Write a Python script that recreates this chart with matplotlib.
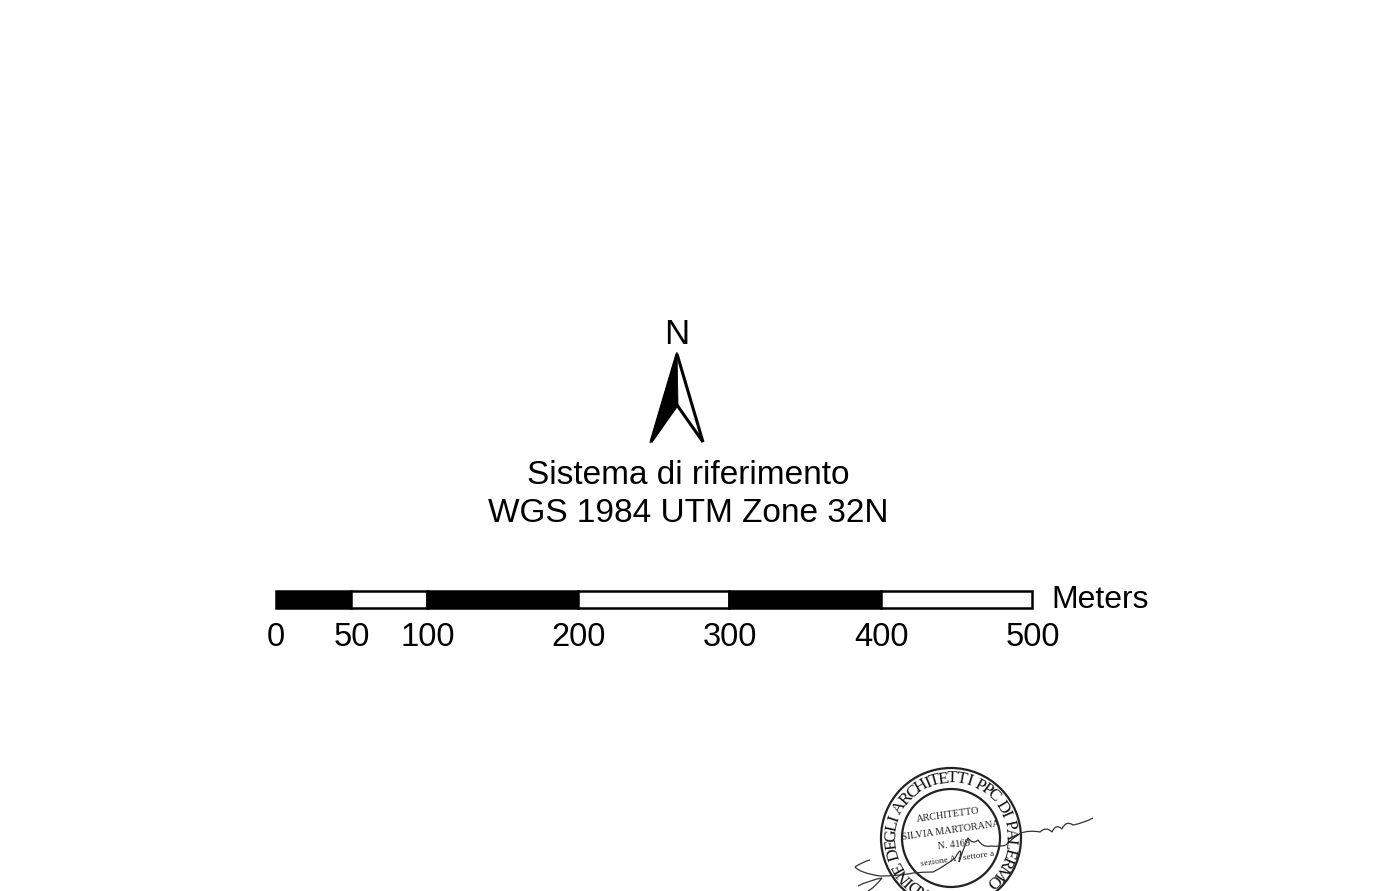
import numpy as np
import matplotlib
matplotlib.use("Agg")
import matplotlib.pyplot as plt
from matplotlib.font_manager import FontProperties
from matplotlib.patches import Polygon, Circle, Rectangle, PathPatch
from matplotlib.path import Path
from matplotlib.textpath import TextPath

# scale bar values
scale_ticks = [0, 50, 100, 200, 300, 400, 500]
scale_labels = ["0", "50", "100", "200", "300", "400", "500"]
scale_colors = ["black", "white", "black", "white", "black", "white"]
scale_unit = "Meters"

north_label = "N"
ref_lines = ["Sistema di riferimento", "WGS 1984 UTM Zone 32N"]

stamp_ring = "ORDINE DEGLI ARCHITETTI PPC DI PALERMO"
stamp_lines = ["ARCHITETTO", "SILVIA MARTORANA", "N. 4169", "sezione A - settore a"]

W, H = 1394, 891
SANS = "Liberation Sans"
SERIF = "Liberation Serif"
INK = "black"

fig = plt.figure(figsize=(W / 100, H / 100), dpi=100, facecolor="white")

# axes in pixels for north arrow, text and stamp
ax = fig.add_axes([0, 0, 1, 1])
ax.set_xlim(0, W)
ax.set_ylim(H, 0)
ax.axis("off")

# north arrow
ax.text(677, 334.5, north_label, fontsize=25, family=SANS, color=INK, ha="center", va="center")
ax.add_patch(Polygon([(677, 354), (651, 442), (677, 405), (703, 442)], closed=True,
                     fc="white", ec="black", lw=2.2, joinstyle="miter"))
ax.add_patch(Polygon([(677, 352), (650, 443), (678, 405)], closed=True, fc="black", ec="black", lw=0.6))

ax.text(688, 475, ref_lines[0], fontsize=24, family=SANS, color=INK, ha="center", va="center")
ax.text(688, 513, ref_lines[1], fontsize=24, family=SANS, color=INK, ha="center", va="center")

# scale bar, axes runs in meters
bar = fig.add_axes([275.5 / W, 1 - 608 / H, (1032 - 275.5) / W, 17 / H])
bar.set_xlim(scale_ticks[0], scale_ticks[-1])
bar.set_ylim(0, 1)
bar.axis("off")
for i, col in enumerate(scale_colors):
    bar.add_patch(Rectangle((scale_ticks[i], 0), scale_ticks[i + 1] - scale_ticks[i], 1,
                            fc=col, ec="black", lw=1.8, clip_on=False))
for t, lab in zip(scale_ticks, scale_labels):
    bar.annotate(lab, (t, 0), xytext=(0.5, -29), textcoords="offset pixels", fontsize=23.5,
                 family=SANS, color=INK, ha="center", va="center", annotation_clip=False)
bar.annotate(scale_unit, (scale_ticks[-1], 0.5), xytext=(19, -1), textcoords="offset pixels",
             fontsize=23, family=SANS, color=INK, ha="left", va="center", annotation_clip=False)

# stamp
cx, cy = 951, 838
ax.add_patch(Circle((cx, cy), 70, fc="none", ec="#222222", lw=1.6))
ax.add_patch(Circle((cx, cy), 49, fc="none", ec="#222222", lw=1.6))

# ring letters spaced by their own width
ring_font = FontProperties(family=SERIF)
widths = []
for ch in stamp_ring:
    if ch == " ":
        widths.append(6.0)
    else:
        widths.append(TextPath((0, 0), ch, size=16, prop=ring_font).get_extents().width + 2.2)
widths = np.array(widths)
lefts = np.cumsum(widths) - widths / 2
angles = 258 - lefts / widths.sum() * 308
for ch, a in zip(stamp_ring, angles):
    x = cx + 59.5 * np.cos(np.radians(a))
    y = cy - 59.5 * np.sin(np.radians(a))
    ax.text(x, y, ch, fontsize=12.5, family=SERIF, color="#111111", ha="center", va="center",
            rotation=a - 90, rotation_mode="anchor", clip_on=True)
ax.text(948, 815, stamp_lines[0], fontsize=7.3, family=SERIF, color="#222222", ha="center", va="center", rotation=8)
ax.text(951, 831, stamp_lines[1], fontsize=7.3, family=SERIF, color="#222222", ha="center", va="center", rotation=8)
ax.text(954, 845, stamp_lines[2], fontsize=7.3, family=SERIF, color="#222222", ha="center", va="center", rotation=6)
ax.text(957, 859, stamp_lines[3], fontsize=6.6, family=SERIF, color="#222222", ha="center", va="center", rotation=8)

# signature strokes
sig_main = [(1093, 818), (1084, 823), (1073, 825), (1066, 820), (1062, 829), (1056, 823), (1052, 832),
            (1046, 826), (1040, 832), (1030, 830), (1021, 833), (1012, 838), (1006, 845), (1000, 847),
            (991, 846), (983, 848), (978, 840), (973, 845), (968, 838), (963, 850), (959, 862),
            (964, 842), (955, 858), (945, 866), (933, 872), (923, 872), (913, 873), (900, 876),
            (880, 876), (860, 873), (855, 867), (862, 862), (870, 860)]
sig_low = [(858, 886), (870, 880), (882, 878), (874, 888), (868, 891)]
for pts in (sig_main, sig_low):
    codes = [Path.MOVETO] + [Path.CURVE3] * (len(pts) - 1)
    if len(pts) % 2 == 0:
        codes[-1] = Path.LINETO
    ax.add_patch(PathPatch(Path(pts, codes), fc="none", ec="#333333", lw=0.9))

fig.savefig("out.png", dpi=100)
